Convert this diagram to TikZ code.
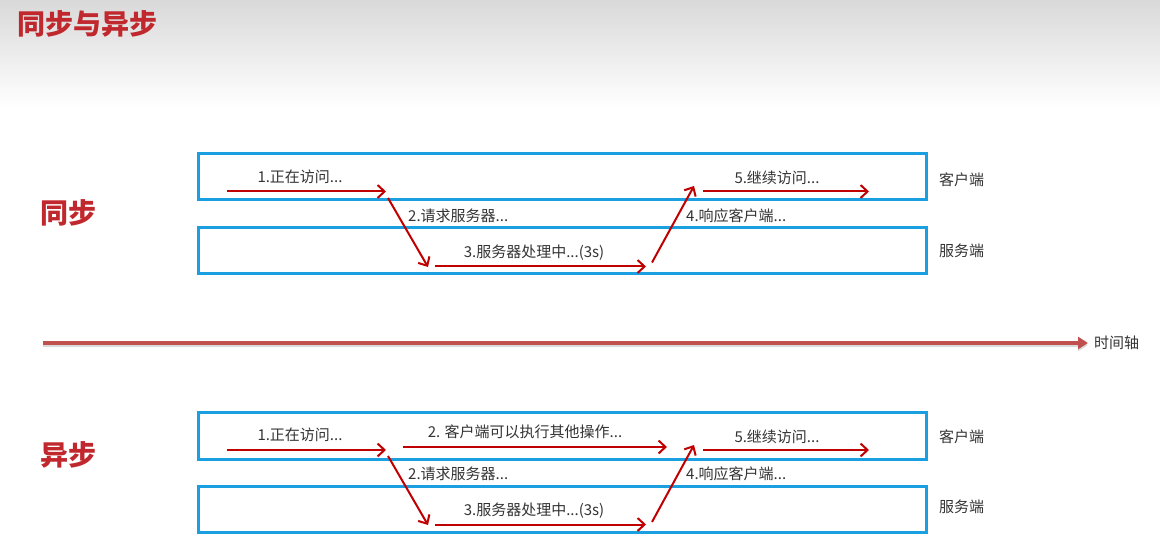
\documentclass[tikz,border=0pt]{standalone}
\usepackage{fontspec}
\newfontfamily\cjk{Noto Sans CJK SC}
\usetikzlibrary{arrows.meta,shadows}
\definecolor{flowred}{HTML}{C00000}
\definecolor{laneblue}{HTML}{1A9FE0}
\definecolor{titlered}{HTML}{C0282D}
\definecolor{axisred}{HTML}{C0504D}
\definecolor{txt}{HTML}{333333}
\definecolor{hdrgray}{HTML}{D9D9D9}
\tikzset{
  lbl/.style={font=\cjk\fontsize{15}{18}\selectfont, text=txt, inner sep=0pt},
  side/.style={font=\cjk\fontsize{15}{18}\selectfont, text=txt, inner sep=0pt, anchor=west},
  big/.style={font=\cjk\bfseries\fontsize{28}{32}\selectfont, text=titlered, inner sep=0pt},
  flow/.style={draw=flowred, line width=2pt, -{Straight Barb[length=7pt,width=13pt,line width=2pt]}},
  lane/.style={draw=laneblue, line width=3pt, minimum width=728pt, minimum height=46pt, inner sep=0pt},
  timeline/.style={draw=axisred, line width=4pt, -{Triangle[length=10pt,width=12pt]}},
}
\begin{document}
\begin{tikzpicture}[x=1pt,y=-1pt]
\useasboundingbox (0,0) rectangle (1160,545);
\shade[top color=hdrgray, bottom color=white, draw=none] (0,0) rectangle (1160,108);
\node[big, anchor=west] (title) at (17,24) {同步与异步};

% ---------- sync ----------
\node[big] (sync) at (68,213) {同步};
\node[lane] (sclient) at (562.5,177) {};
\node[lane] (sserver) at (562.5,251) {};
\node[side] (sclientl) at (939,180) {客户端};
\node[side] (sserverl) at (939,251) {服务端};

\coordinate (s1a) at (227,191.5);
\coordinate (s1b) at (386,191.5);
\coordinate (s2a) at (388,198);
\coordinate (s2b) at (428,267);
\coordinate (s3a) at (435,266.5);
\coordinate (s3b) at (646,266.5);
\coordinate (s4a) at (652,262.5);
\coordinate (s4b) at (694,186);
\coordinate (s5a) at (703,191.5);
\coordinate (s5b) at (869,191.5);
\draw[flow] (s1a) -- (s1b);
\draw[flow] (s2a) -- (s2b);
\draw[flow] (s3a) -- (s3b);
\draw[flow] (s4a) -- (s4b);
\draw[flow] (s5a) -- (s5b);
\node[lbl] (s1l) at (300,177) {1.正在访问...};
\node[lbl, anchor=west] (s2l) at (408,216) {2.请求服务器...};
\node[lbl] (s3l) at (534,253) {3.服务器处理中...(3s)};
\node[lbl, anchor=west] (s4l) at (686,216) {4.响应客户端...};
\node[lbl] (s5l) at (777,178) {5.继续访问...};

% ---------- time axis ----------
\coordinate (ta) at (43,343);
\coordinate (tb) at (1088,343);
\draw[timeline, draw=black!15, transform canvas={yshift=-2pt}] (ta) -- (tb);
\draw[timeline] (ta) -- (tb);
\node[side, font=\cjk\fontsize{15}{18}\selectfont] (tl) at (1094,343) {时间轴};

% ---------- async ----------
\node[big] (async) at (68,455) {异步};
\node[lane] (aclient) at (562.5,436) {};
\node[lane] (aserver) at (562.5,509.5) {};
\node[side] (aclientl) at (939,437) {客户端};
\node[side] (aserverl) at (939,507) {服务端};

\coordinate (a1a) at (227,450);
\coordinate (a1b) at (386,450);
\coordinate (abA) at (403,447);
\coordinate (abB) at (667,447);
\coordinate (a2a) at (388,456);
\coordinate (a2b) at (428,525);
\coordinate (a3a) at (435,524.5);
\coordinate (a3b) at (646,524.5);
\coordinate (a4a) at (652,522);
\coordinate (a4b) at (694,445);
\coordinate (a5a) at (703,450);
\coordinate (a5b) at (869,450);
\draw[flow] (a1a) -- (a1b);
\draw[flow] (abA) -- (abB);
\draw[flow] (a2a) -- (a2b);
\draw[flow] (a3a) -- (a3b);
\draw[flow] (a4a) -- (a4b);
\draw[flow] (a5a) -- (a5b);
\node[lbl] (a1l) at (300,435) {1.正在访问...};
\node[lbl] (abl) at (525,432) {2. 客户端可以执行其他操作...};
\node[lbl, anchor=west] (a2l) at (408,474) {2.请求服务器...};
\node[lbl] (a3l) at (534,511) {3.服务器处理中...(3s)};
\node[lbl, anchor=west] (a4l) at (686,474) {4.响应客户端...};
\node[lbl] (a5l) at (777,437) {5.继续访问...};
\end{tikzpicture}
\end{document}
